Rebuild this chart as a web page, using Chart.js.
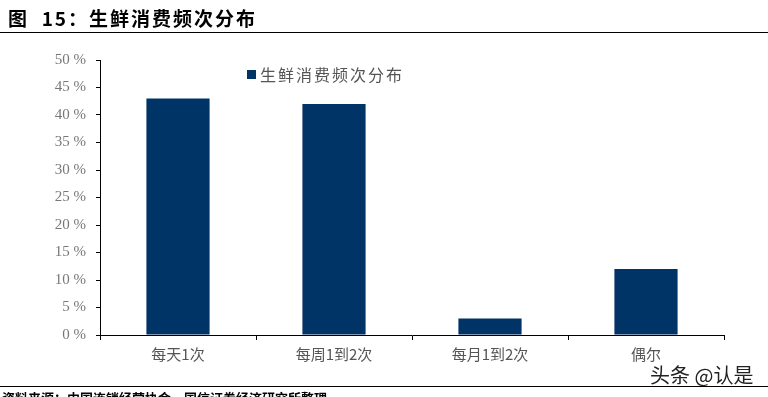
<!DOCTYPE html>
<html><head><meta charset="utf-8">
<script src="https://cdn.jsdelivr.net/npm/chart.js@4.4.0/dist/chart.umd.min.js"></script>
<style>
html,body{margin:0;padding:0;background:#fff;width:768px;height:397px;overflow:hidden;position:relative;font-family:"Noto Sans CJK SC",sans-serif;}
#title{position:absolute;left:8px;top:4px;font-size:19px;font-weight:bold;color:#000;white-space:nowrap;letter-spacing:2px;}
#topline{position:absolute;left:0;top:32px;width:768px;height:1px;background:#000;}
#botline{position:absolute;left:0;top:386px;width:768px;height:1px;background:#000;}
#source{position:absolute;left:2px;top:388px;font-size:13px;font-weight:bold;color:#000;white-space:nowrap;}
#wm{position:absolute;left:650px;top:360px;font-size:20px;color:#222;white-space:nowrap;}
#wrap{position:absolute;left:0;top:0;width:768px;height:397px;}
</style></head>
<body>
<div id="wrap"><canvas id="c"></canvas></div>
<div id="title">图&nbsp; 15：生鲜消费频次分布</div>
<div id="topline"></div>
<div id="botline"></div>
<div id="source">资料来源：中国连锁经营协会，国信证券经济研究所整理</div>
<div id="wm">头条 @认是</div>
<script>
const categories = ["每天1次", "每周1到2次", "每月1到2次", "偶尔"];
const seriesName = "生鲜消费频次分布";
const values = [43, 42, 3, 12];
const yTicks = [0, 5, 10, 15, 20, 25, 30, 35, 40, 45, 50];

const legendPlugin = {
  id: 'inLegend',
  afterDraw(chart) {
    const ctx = chart.ctx;
    ctx.save();
    ctx.fillStyle = '#003366';
    ctx.fillRect(247, 70, 9, 9);
    ctx.fillStyle = '#555';
    ctx.font = '16px "Noto Sans CJK SC"';
    ctx.letterSpacing = '2px';
    ctx.textBaseline = 'middle';
    ctx.fillText(seriesName, 260, 75);
    ctx.restore();
  }
};

new Chart(document.getElementById('c'), {
  type: 'bar',
  data: {
    labels: categories,
    datasets: [{ label: seriesName, data: values, backgroundColor: '#003366', borderWidth: 0,
      barPercentage: 0.405, categoryPercentage: 1.0 }]
  },
  options: {
    responsive: true, maintainAspectRatio: false, animation: false,
    layout: { padding: { left: 40, top: 60, right: 44, bottom: 22 } },
    plugins: { legend: { display: false }, tooltip: { enabled: false } },
    scales: {
      x: {
        grid: { drawOnChartArea: false, drawTicks: true, tickLength: 5, color: '#000', offset: true },
        border: { color: '#000', width: 1 },
        ticks: { color: '#555', font: { family: '"Noto Sans CJK SC"', size: 15 }, padding: 5 },
        afterFit(s) { s.height = 40; }
      },
      y: {
        min: 0, max: 50,
        grid: { drawOnChartArea: false, drawTicks: true, tickLength: 4, color: '#000' },
        border: { color: '#000', width: 1 },
        afterBuildTicks(s) { s.ticks = yTicks.map(v => ({ value: v })); },
        ticks: { color: '#777', font: { family: '"Liberation Serif"', size: 15 }, padding: 10,
          callback: v => v + ' %' },
        afterFit(s) { s.width = 60; }
      }
    }
  },
  plugins: [legendPlugin]
});
</script>
</body></html>
